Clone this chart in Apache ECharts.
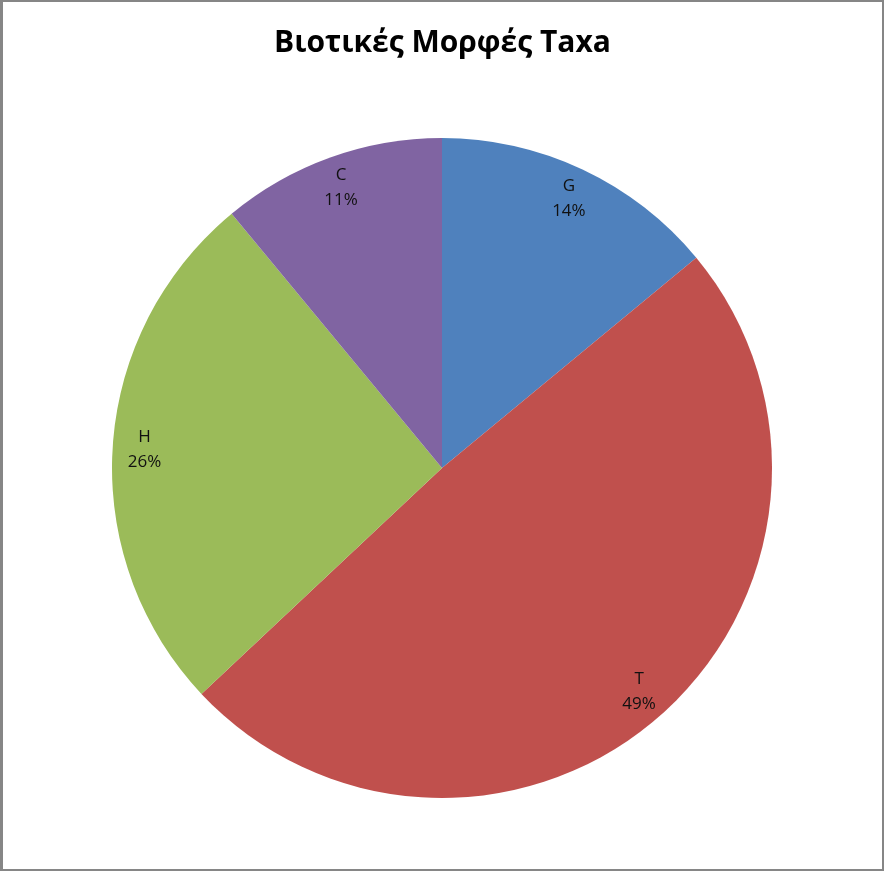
<!DOCTYPE html>
<html>
<head>
    <meta charset="UTF-8">
    <title>Βιοτικές Μορφές Taxa</title>
    <script src="https://cdn.jsdelivr.net/npm/echarts@6.0.0/dist/echarts.min.js"></script>
    <style>
        html, body {
            margin: 0;
            padding: 0;
            background: #ffffff;
        }
        #chart {
            width: 884px;
            height: 871px;
            box-sizing: border-box;
            border: 2px solid #868686;
            border-left-width: 3px;
        }
    </style>
</head>
<body>
    <div id="chart"></div>
    <script>
        // Δεδομένα
        const categories = ['G', 'T', 'H', 'C'];
        const percents = [14, 49, 26, 11];
        const colors = ['#4F81BD', '#C0504D', '#9BBB59', '#8064A2'];

        const pieData = categories.map((name, i) => ({
            name: name,
            value: percents[i],
            itemStyle: { color: colors[i] }
        }));

        const chart = echarts.init(document.getElementById('chart'));

        const option = {
            animation: false,
            title: {
                text: 'Βιοτικές Μορφές Taxa',
                left: 'center',
                top: 21,
                textStyle: {
                    fontFamily: 'Open Sans',
                    fontWeight: 'bold',
                    fontSize: 30,
                    color: '#000000'
                }
            },
            series: [{
                // οι φέτες
                type: 'pie',
                center: [439, 466],
                radius: [0, 330],
                startAngle: 90,
                clockwise: true,
                silent: true,
                label: { show: false },
                labelLine: { show: false },
                itemStyle: { borderWidth: 0 },
                data: pieData
            }, {
                // διαφανής δακτύλιος μόνο για τις ετικέτες
                type: 'pie',
                center: [439, 466],
                radius: [262, 328],
                startAngle: 90,
                clockwise: true,
                silent: true,
                itemStyle: { color: 'transparent', borderWidth: 0 },
                label: {
                    show: true,
                    position: 'inside',
                    formatter: '{b}\n{c}%',
                    fontFamily: 'Open Sans',
                    fontSize: 17,
                    lineHeight: 25,
                    color: '#111111'
                },
                labelLine: { show: false },
                data: categories.map((name, i) => ({ name: name, value: percents[i] }))
            }]
        };

        chart.setOption(option);
    </script>
</body>
</html>
